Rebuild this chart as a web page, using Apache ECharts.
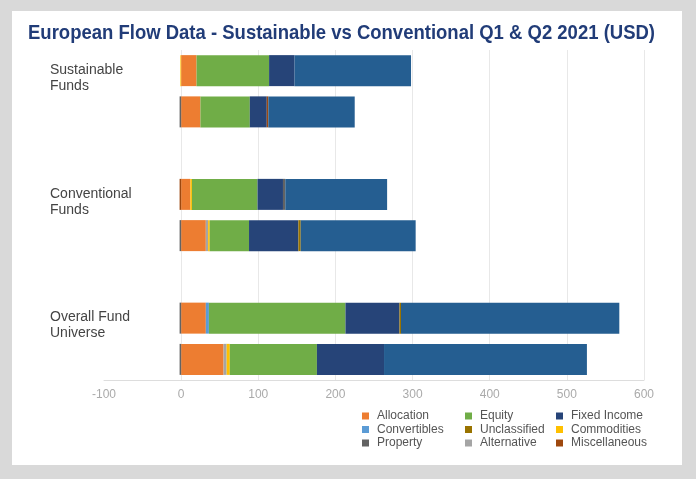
<!DOCTYPE html>
<html>
<head>
<meta charset="utf-8">
<script src="https://cdn.jsdelivr.net/npm/echarts@6/dist/echarts.min.js"></script>
<style>
html, body { margin: 0; padding: 0; background: #d9d9d9; }
#main { width: 696px; height: 479px; }
</style>
</head>
<body>
<div id="main"></div>
<script>
// rows: Sustainable Q1, Sustainable Q2, Conventional Q1, Conventional Q2, Overall Q1, Overall Q2
var titleText = 'European Flow Data - Sustainable vs Conventional Q1 & Q2 2021 (USD)'
var groupLabels = [['Sustainable', 'Funds'], ['Conventional', 'Funds'], ['Overall Fund', 'Universe']]
var xTicks = [-100, 0, 100, 200, 300, 400, 500, 600]

var allocation    = [20, 25, 12, 32, 32, 55]
var convertibles  = [0, 0, 0, 0, 4, 0]
var alternative   = [0, 0, 0, 3, 0, 4]
var commodities   = [-1, 0, 2, 2, 0, 4]
var equity        = [94, 64, 85, 51, 177, 113]
var fixedIncome   = [33, 22, 33, 64, 70, 87]
var property      = [0, -2, 3, -2, -2, -2]
var unclassified  = [0, 0, 0, 3, 2, 0]
var miscellaneous = [0, 2, -2, 0, 0, 0]
var moneyMarket   = [151, 112, 132, 149, 283, 263]

// two bars per group, one empty slot between groups
function toSlots(arr) {
    return [arr[0], arr[1], null, arr[2], arr[3], null, arr[4], arr[5]]
}
var slots = ['s1', 's2', 'g1', 'c1', 'c2', 'g2', 'o1', 'o2']
var slotLabel = { s1: groupLabels[0], c1: groupLabels[1], o1: groupLabels[2] }

var seriesDefs = [
    ['Allocation', allocation, '#ed7d31'],
    ['Convertibles', convertibles, '#5b9bd5'],
    ['Alternative', alternative, '#a5a5a5'],
    ['Commodities', commodities, '#ffc000'],
    ['Equity', equity, '#70ad47'],
    ['Fixed Income', fixedIncome, '#264478'],
    ['Property', property, '#636363'],
    ['Unclassified', unclassified, '#997300'],
    ['Miscellaneous', miscellaneous, '#9e480e'],
    ['Money Market', moneyMarket, '#255e91']
]

var series = seriesDefs.map(function (d) {
    return {
        name: d[0],
        type: 'bar',
        stack: 'flow',
        barWidth: 31,
        itemStyle: { color: d[2] },
        data: toSlots(d[1])
    }
})

function legendCol(names, left) {
    return {
        orient: 'vertical',
        left: left,
        top: 409.5,
        padding: 0,
        itemGap: 0.5,
        itemWidth: 7,
        itemHeight: 7,
        icon: 'rect',
        selectedMode: false,
        textStyle: { color: '#555', fontSize: 12, lineHeight: 13, fontFamily: 'Liberation Sans', padding: [0, 0, 0, 3] },
        data: names
    }
}

// squeeze the bold title to the condensed width of the original
var titleFont = 'bold 21px "Liberation Sans"'
var ctx = document.createElement('canvas').getContext('2d')
ctx.font = titleFont
var titleScale = 627 / ctx.measureText(titleText).width

var chartDom = document.getElementById('main')
var myChart = echarts.init(chartDom, null, { renderer: 'canvas' })

var option = {
    animation: false,
    backgroundColor: '#d9d9d9',
    graphic: [{
        type: 'rect',
        z: -10,
        shape: { x: 12, y: 11, width: 670, height: 454 },
        style: { fill: '#ffffff' }
    }, {
        type: 'text',
        x: 28,
        y: 33,
        scaleX: titleScale,
        style: {
            text: titleText,
            font: titleFont,
            fill: '#213c78',
            verticalAlign: 'middle'
        }
    }],
    legend: [
        legendCol(['Allocation', 'Convertibles', 'Property'], 362),
        legendCol(['Equity', 'Unclassified', 'Alternative'], 465),
        legendCol(['Fixed Income', 'Commodities', 'Miscellaneous'], 556)
    ],
    grid: { left: 104, right: 52, top: 50, bottom: 99 },
    xAxis: {
        type: 'value',
        min: -100,
        max: 600,
        interval: 100,
        axisLine: { show: true, lineStyle: { color: '#dddddd' } },
        axisTick: { show: false },
        axisLabel: { color: '#aaaaaa', fontSize: 12, fontFamily: 'Liberation Sans', margin: 9 },
        splitLine: { show: true, showMinLine: false, lineStyle: { color: '#e8e8e8' } }
    },
    yAxis: {
        type: 'category',
        inverse: true,
        data: slots,
        axisLine: { show: false },
        axisTick: { show: false },
        splitLine: { show: false },
        axisLabel: {
            interval: 0,
            align: 'left',
            margin: 54,
            color: '#444',
            fontSize: 14,
            fontFamily: 'Liberation Sans',
            formatter: function (v) {
                var l = slotLabel[v]
                if (!l) return ''
                return '{gap| }\n{t|' + l[0] + '}\n{t|' + l[1] + '}'
            },
            rich: {
                gap: { lineHeight: 15, fontSize: 10 },
                t: { lineHeight: 16, fontSize: 14, color: '#444', fontFamily: 'Liberation Sans' }
            }
        }
    },
    series: series
}

option && myChart.setOption(option)
</script>
</body>
</html>
